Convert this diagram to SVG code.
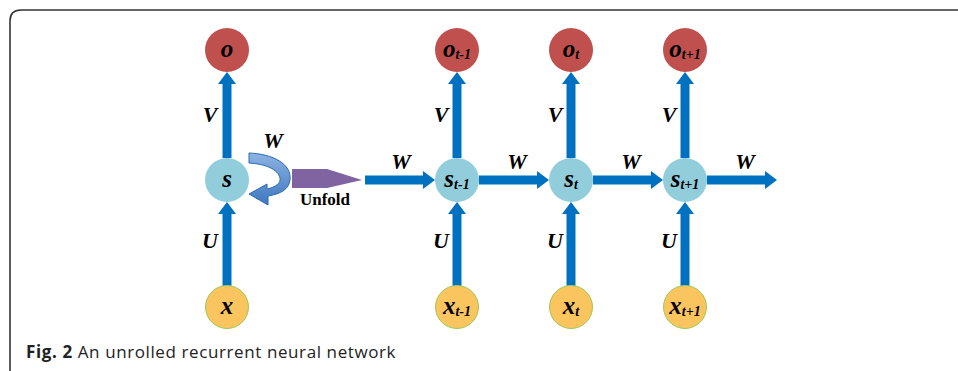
<svg xmlns="http://www.w3.org/2000/svg" width="958" height="371" viewBox="0 0 958 371">
  <style>
    .o { fill: #C0504D; }
    .s { fill: #92CDDC; }
    .x { fill: #FAC45E; stroke: #9BCB5A; stroke-width: 1; }
    .lbl { font-family: "Liberation Serif", "Times New Roman", serif; font-weight: bold; font-style: italic; fill: #000; }
    .node { font-size: 25px; text-anchor: middle; }
    .sub { font-size: 14px; }
    .w { font-size: 22px; text-anchor: middle; }
    .arr { stroke: #0070C0; stroke-width: 9; fill: none; marker-end: url(#head); }
    .cap { font-family: "Open Sans", "Liberation Sans", sans-serif; font-size: 17px; letter-spacing: 0.6px; fill: #222; }
  </style>
  <defs>
    <marker id="head" markerUnits="userSpaceOnUse" markerWidth="12" markerHeight="18" viewBox="0 -9 12 18" refX="0" refY="0" orient="auto">
      <path d="M0,-9 L12,0 L0,9 Z" fill="#0070C0"/>
    </marker>
    <linearGradient id="loopGrad" x1="0" y1="0" x2="0" y2="1">
      <stop offset="0" stop-color="#8DB3E2"/>
      <stop offset="1" stop-color="#3E77C0"/>
    </linearGradient>
  </defs>

  <!-- frame -->
  <path d="M10,371 L10,21 Q10,10 21,10 L958,10" fill="none" stroke="#333" stroke-width="1.6"/>

  <!-- connectors -->
  <g id="connectors">
    <line class="arr" x1="227" y1="286" x2="227" y2="214"/>
    <line class="arr" x1="227" y1="158" x2="227" y2="84"/>

    <line class="arr" x1="365" y1="180" x2="423" y2="180"/>
    <line class="arr" x1="479" y1="180" x2="537" y2="180"/>
    <line class="arr" x1="593" y1="180" x2="651" y2="180"/>
    <line class="arr" x1="707" y1="180" x2="765" y2="180"/>

    <line class="arr" x1="457" y1="286" x2="457" y2="214"/>
    <line class="arr" x1="457" y1="158" x2="457" y2="84"/>
    <line class="arr" x1="571" y1="286" x2="571" y2="214"/>
    <line class="arr" x1="571" y1="158" x2="571" y2="84"/>
    <line class="arr" x1="685" y1="286" x2="685" y2="214"/>
    <line class="arr" x1="685" y1="158" x2="685" y2="84"/>

    <!-- recurrent self loop -->
    <path d="M249,153 C273,154 292,164 290,180 C289,189 281,194 268,196 L268,205 L249,194 L267,184 L267,189 C276,187 281,183 280,178 C278,169 265,164 249,163 Z" fill="url(#loopGrad)" stroke="#2E6BB3" stroke-width="1"/>

    <!-- unfold arrow -->
    <polygon points="292,169 327,169 362,180 327,188 292,188" fill="#8064A2"/>
  </g>

  <!-- edge labels -->
  <g id="labels" class="lbl">
    <text class="w" x="210" y="122">V</text>
    <text class="w" x="441" y="122">V</text>
    <text class="w" x="555" y="122">V</text>
    <text class="w" x="669" y="122">V</text>
    <text class="w" x="210" y="248">U</text>
    <text class="w" x="441" y="248">U</text>
    <text class="w" x="555" y="248">U</text>
    <text class="w" x="669" y="248">U</text>
    <text class="w" x="273" y="148">W</text>
    <text class="w" x="401" y="169">W</text>
    <text class="w" x="517" y="169">W</text>
    <text class="w" x="631" y="169">W</text>
    <text class="w" x="745" y="169">W</text>
    <text x="325" y="205" style="font-style:normal;font-size:17px;text-anchor:middle">Unfold</text>
  </g>

  <!-- folded network -->
  <g id="node-o">
    <circle class="o" cx="227" cy="50" r="22"/>
    <text class="lbl node" x="227" y="57">o</text>
  </g>
  <g id="node-s">
    <circle class="s" cx="227" cy="180" r="22"/>
    <text class="lbl node" x="227" y="187">s</text>
  </g>
  <g id="node-x">
    <circle class="x" cx="227" cy="307" r="21.5"/>
    <text class="lbl node" x="227" y="314">x</text>
  </g>

  <!-- unrolled network -->
  <g id="node-o-t-1">
    <circle class="o" cx="457" cy="50" r="22"/>
    <text class="lbl node" x="457" y="57">o<tspan class="sub" dy="2">t-1</tspan></text>
  </g>
  <g id="node-o-t">
    <circle class="o" cx="571" cy="50" r="22"/>
    <text class="lbl node" x="571" y="57">o<tspan class="sub" dy="2">t</tspan></text>
  </g>
  <g id="node-o-t+1">
    <circle class="o" cx="685" cy="50" r="22"/>
    <text class="lbl node" x="685" y="57">o<tspan class="sub" dy="2">t+1</tspan></text>
  </g>

  <g id="node-s-t-1">
    <circle class="s" cx="457" cy="180" r="22"/>
    <text class="lbl node" x="457" y="187">s<tspan class="sub" dy="2">t-1</tspan></text>
  </g>
  <g id="node-s-t">
    <circle class="s" cx="571" cy="180" r="22"/>
    <text class="lbl node" x="571" y="187">s<tspan class="sub" dy="2">t</tspan></text>
  </g>
  <g id="node-s-t+1">
    <circle class="s" cx="685" cy="180" r="22"/>
    <text class="lbl node" x="685" y="187">s<tspan class="sub" dy="2">t+1</tspan></text>
  </g>

  <g id="node-x-t-1">
    <circle class="x" cx="457" cy="307" r="21.5"/>
    <text class="lbl node" x="457" y="314">x<tspan class="sub" dy="2">t-1</tspan></text>
  </g>
  <g id="node-x-t">
    <circle class="x" cx="571" cy="307" r="21.5"/>
    <text class="lbl node" x="571" y="314">x<tspan class="sub" dy="2">t</tspan></text>
  </g>
  <g id="node-x-t+1">
    <circle class="x" cx="685" cy="307" r="21.5"/>
    <text class="lbl node" x="685" y="314">x<tspan class="sub" dy="2">t+1</tspan></text>
  </g>

  <!-- caption -->
  <text class="cap" x="26" y="358"><tspan font-weight="bold">Fig. 2</tspan> An unrolled recurrent neural network</text>
</svg>
